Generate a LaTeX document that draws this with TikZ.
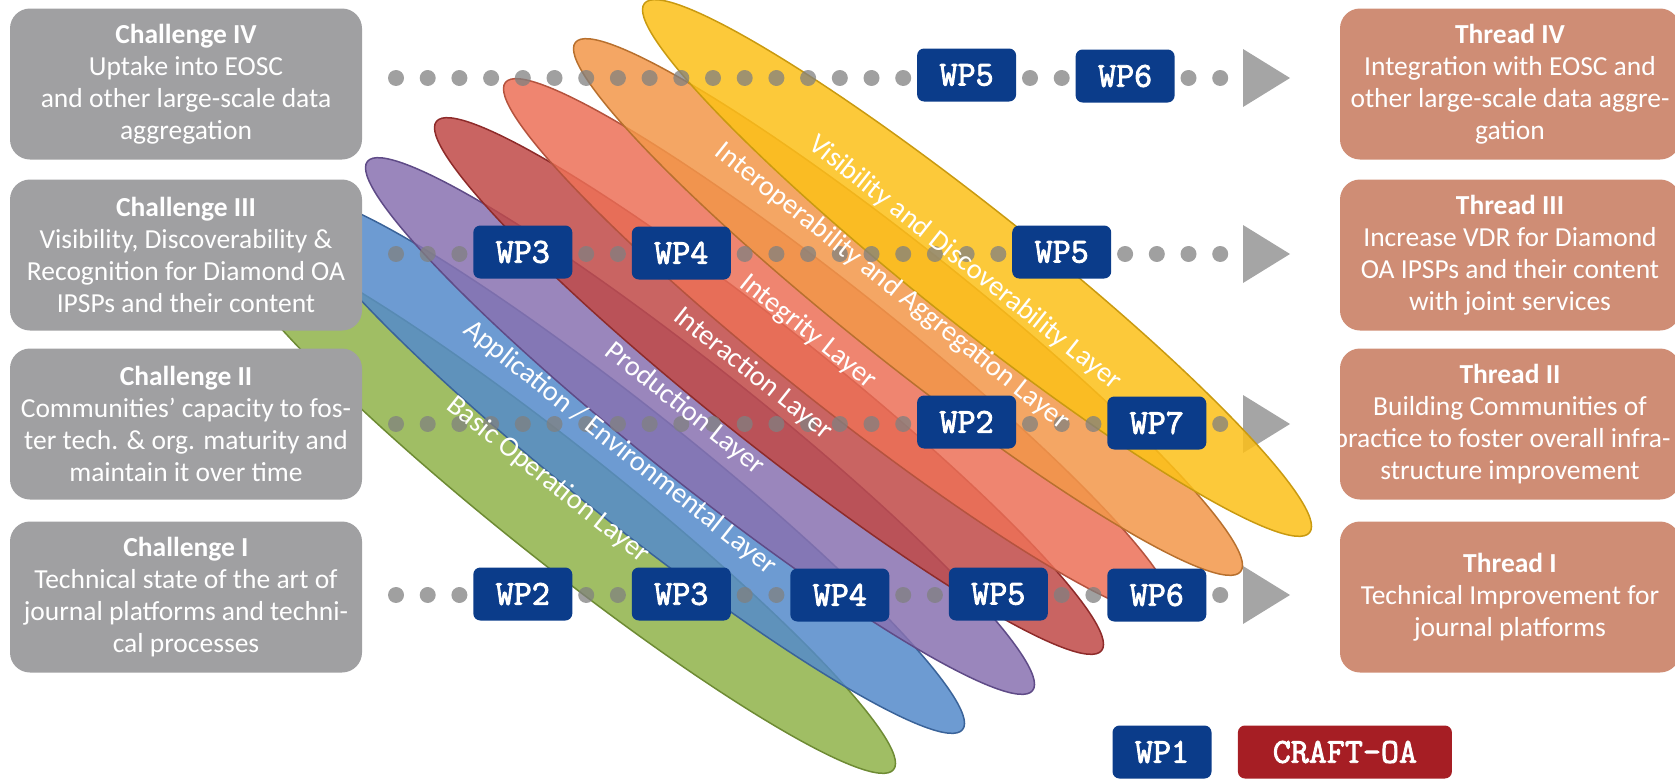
\documentclass[tikz,border=0pt]{standalone}
\usepackage{fontspec}
\setmainfont{Carlito}
\newfontfamily\wpfont[AutoFakeBold=2.5]{Latin Modern Mono}
\usepackage{xcolor}
\usetikzlibrary{shapes,positioning}

\definecolor{chgray}{HTML}{A0A0A2}
\definecolor{thsalmon}{HTML}{CF8D75}
\definecolor{wpblue}{HTML}{0B3C8A}
\definecolor{craftred}{HTML}{A61E24}
\definecolor{dotgray}{HTML}{808080}
\definecolor{tipgray}{HTML}{A5A5A5}
\definecolor{lgreen}{HTML}{8FB349}\definecolor{lgreenD}{HTML}{6E8B34}
\definecolor{lblue}{HTML}{548ACA}\definecolor{lblueD}{HTML}{3A6399}
\definecolor{lpurple}{HTML}{8871B0}\definecolor{lpurpleD}{HTML}{5F4B87}
\definecolor{lred}{HTML}{C04947}\definecolor{lredD}{HTML}{8E2B2A}
\definecolor{lsalmon}{HTML}{EC7057}\definecolor{lsalmonD}{HTML}{B5533E}
\definecolor{lorange}{HTML}{F29749}\definecolor{lorangeD}{HTML}{B8702E}
\definecolor{lyellow}{HTML}{FCC018}\definecolor{lyellowD}{HTML}{C99A10}

\tikzset{chal/.style={rectangle,rounded corners=20pt,fill=chgray,text=white,minimum width=352pt,minimum height=151pt,align=center,inner sep=0pt,font=\fontsize{27.5}{32}\selectfont}}
\tikzset{thr/.style={chal,fill=thsalmon,minimum width=340pt}}
\tikzset{wp/.style={rectangle,rounded corners=7pt,fill=wpblue,text=white,minimum width=99pt,minimum height=53pt,inner sep=0pt,font=\wpfont\bfseries\fontsize{35}{35}\selectfont}}
\tikzset{lay/.style={ellipse,minimum width=850pt,minimum height=114pt,inner sep=0pt,line width=1.5pt,fill opacity=0.85,rotate=-38.5}}
\tikzset{laytext/.style={text=white,rotate=-38.5,inner sep=0pt,font=\fontsize{28.5}{32}\selectfont}}
\tikzset{dotrow/.style={draw=dotgray,line width=16pt,line cap=round,dash pattern=on 0.01pt off 31.69pt,draw opacity=0.75}}

\begin{document}
\begin{tikzpicture}[x=1pt,y=-1pt]
        \useasboundingbox (0,0) rectangle (1675,779);
        \clip (0,0) rectangle (1675,779);

        \coordinate (sIV) at (396,78);
        \coordinate (sIII) at (396,254);
        \coordinate (sII) at (396,424);
        \coordinate (sI) at (396,595);
        \coordinate (aIV) at (1243,78);
        \coordinate (aIII) at (1243,254);
        \coordinate (aII) at (1243,424);
        \coordinate (aI) at (1243,595);

        \foreach \r in {IV,III,II,I}
            \fill[tipgray] (a\r) ++(0,-29) -- ++(47,29) -- ++(-47,29) -- cycle;

        \node[lay,fill=lgreen,draw=lgreenD] (basic) at (561,505) {};
        \node[lay,fill=lblue,draw=lblueD] (appl) at (630,465) {};
        \node[lay,fill=lpurple,draw=lpurpleD] (prod) at (700,426) {};
        \node[lay,fill=lred,draw=lredD] (inter) at (769,386) {};
        \node[lay,fill=lsalmon,draw=lsalmonD] (integr) at (838,347) {};
        \node[lay,fill=lorange,draw=lorangeD] (interop) at (908,307) {};
        \node[lay,fill=lyellow,draw=lyellowD] (vis) at (977,268) {};

        \foreach \r in {IV,III,II,I}
            \draw[dotrow] (s\r) -- (a\r);

        \node[laytext] (tbasic) at (548,480) {Basic Operation Layer};
        \node[laytext] (tappl) at (620,448) {Application / Environmental Layer};
        \node[laytext] (tprod) at (685,409) {Production Layer};
        \node[laytext] (tinter) at (753,374) {Interaction Layer};
        \node[laytext] (tintegr) at (808,332) {Integrity Layer};
        \node[laytext] (tinterop) at (892,287) {Interoperability and Aggregation Layer};
        \node[laytext] (tvis) at (965,263) {Visibility and Discoverability Layer};

        \node[wp] (wpIVa) at ({396+31.7*18},75) {WP5};
        \node[wp] (wpIVb) at ({396+31.7*23},76) {WP6};
        \node[wp] (wpIIIa) at ({396+31.7*4},252) {WP3};
        \node[wp] (wpIIIb) at ({396+31.7*9},253) {WP4};
        \node[wp] (wpIIIc) at ({396+31.7*21},252) {WP5};
        \node[wp] (wpIIa) at ({396+31.7*18},422) {WP2};
        \node[wp] (wpIIb) at ({396+31.7*24},423) {WP7};
        \node[wp] (wpIa) at ({396+31.7*4},594) {WP2};
        \node[wp] (wpIb) at ({396+31.7*9},594) {WP3};
        \node[wp] (wpIc) at ({396+31.7*14},595) {WP4};
        \node[wp] (wpId) at ({396+31.7*19},594) {WP5};
        \node[wp] (wpIe) at ({396+31.7*24},595) {WP6};

        \node[chal] (chIV) at (186,84) {{\bfseries Challenge IV}\\Uptake into EOSC\\and other large-scale data\\aggregation};
        \node[chal] (chIII) at (186,255) {{\bfseries Challenge III}\\Visibility, Discoverability \&\\Recognition for Diamond OA\\IPSPs and their content};
        \node[chal] (chII) at (186,424) {{\bfseries Challenge II}\\Communities’ capacity to fos-\\ter tech. \& org. maturity and\\maintain it over time};
        \node[chal] (chI) at (186,597) {{\bfseries Challenge I}\\Technical state of the art of\\journal platforms and techni-\\cal processes};

        \node[thr] (thIV) at (1510,84) {{\bfseries Thread IV}\\Integration with EOSC and\\other large-scale data aggre-\\gation};
        \node[thr] (thIII) at (1510,255) {{\bfseries Thread III}\\Increase VDR for Diamond\\OA IPSPs and their content\\with joint services};
        \node[thr] (thII) at (1510,424) {{\bfseries Thread II}\\Building Communities of\\\hspace*{-16pt}practice to foster overall infra-\\structure improvement};
        \node[thr] (thI) at (1510,597) {{\bfseries Thread I}\\Technical Improvement for\\journal platforms};

        \node[wp] (wp1) at (1162,752) {WP1};
        \node[wp,fill=craftred,minimum width=214pt,right=26pt of wp1] (craft) {CRAFT-OA};
    \end{tikzpicture}
\end{document}
